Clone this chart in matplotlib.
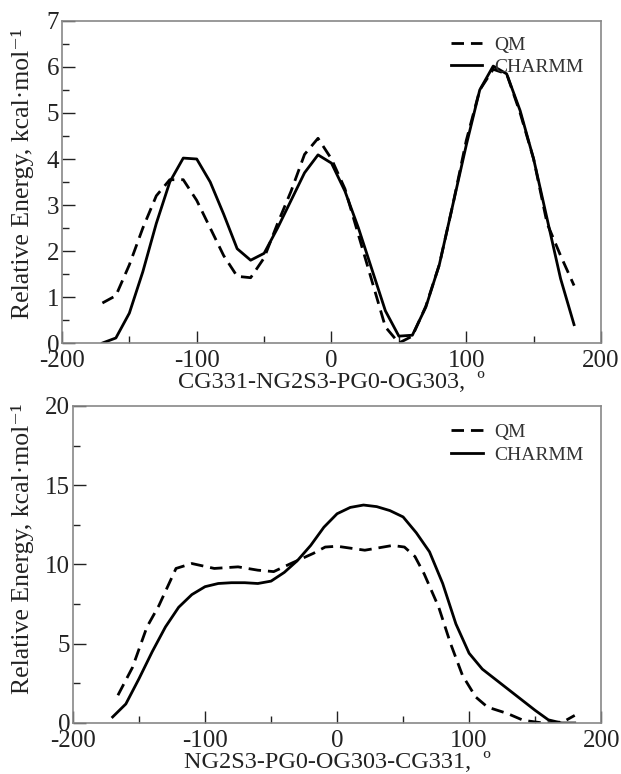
import matplotlib
matplotlib.use("Agg")
import matplotlib.pyplot as plt
from matplotlib.ticker import MultipleLocator

plt.rcParams['font.family'] = ['Liberation Serif', 'DejaVu Serif']
plt.rcParams['axes.unicode_minus'] = False

# Top panel: CG331-NG2S3-PG0-OG303
top_charmm_x = [-170, -160, -150, -140, -130, -120, -110, -100, -90, -80, -70, -60, -50, -40, -30, -20, -10, 0,
                10, 20, 30, 40, 50, 60, 70, 80, 90, 100, 110, 120, 130, 140, 150, 160, 170, 180]
top_charmm_y = [0.0, 0.11, 0.65, 1.55, 2.6, 3.5, 4.02, 4.0, 3.5, 2.8, 2.05, 1.8, 1.95, 2.5, 3.1, 3.7, 4.09, 3.91,
                3.3, 2.5, 1.6, 0.7, 0.15, 0.17, 0.78, 1.7, 3.0, 4.3, 5.5, 6.02, 5.85, 5.05, 4.0, 2.7, 1.4, 0.4]
top_qm_x = [-170, -160, -150, -140, -130, -120, -110, -100, -90, -80, -70, -60, -50, -40, -30, -20, -10, 0,
            10, 20, 30, 40, 50, 60, 70, 80, 90, 100, 110, 120, 130, 140, 150, 160, 170, 180]
top_qm_y = [0.87, 1.03, 1.7, 2.5, 3.2, 3.55, 3.55, 3.1, 2.5, 1.9, 1.45, 1.42, 1.85, 2.6, 3.3, 4.1, 4.45, 4.0,
            3.35, 2.35, 1.35, 0.35, 0.0, 0.15, 0.8, 1.7, 3.0, 4.4, 5.5, 5.95, 5.85, 5.0, 4.0, 2.6, 1.9, 1.25]

# Bottom panel: NG2S3-PG0-OG303-CG331
bot_charmm_x = [-170, -160, -150, -140, -130, -120, -110, -100, -90, -80, -70, -60, -50, -40, -30, -20, -10, 0,
                10, 20, 30, 40, 50, 60, 70, 80, 90, 100, 110, 120, 130, 140, 150, 160, 170, 180]
bot_charmm_y = [0.38, 1.2, 2.8, 4.5, 6.06, 7.3, 8.1, 8.6, 8.8, 8.85, 8.85, 8.8, 8.95, 9.5, 10.25, 11.2, 12.35, 13.2,
                13.6, 13.75, 13.65, 13.4, 13.0, 12.0, 10.8, 8.8, 6.25, 4.4, 3.4, 2.75, 2.1, 1.45, 0.8, 0.2, 0.0, 0.0]
bot_qm_x = [-166, -155, -144, -135, -122, -110, -93, -75, -60, -48, -35, -18, -9, 0,
            21, 42, 51, 59, 66, 77, 86, 95, 105, 114, 129, 141, 156, 171, 180]
bot_qm_y = [1.75, 3.5, 6.06, 7.4, 9.75, 10.06, 9.75, 9.85, 9.64, 9.55, 10.06, 10.7, 11.1, 11.15,
            10.9, 11.2, 11.1, 10.5, 9.4, 7.3, 5.0, 3.0, 1.64, 1.0, 0.6, 0.17, 0.0, 0.06, 0.48]

xlabel_top = "CG331-NG2S3-PG0-OG303,  º"
xlabel_bot = "NG2S3-PG0-OG303-CG331,  º"
ylabel = "Relative Energy, kcal·mol⁻¹"

fig = plt.figure(figsize=(6.21, 7.74), dpi=100)
ax1 = fig.add_axes([0.0998, 0.5568, 0.868, 0.4161])
ax2 = fig.add_axes([0.1176, 0.0659, 0.8504, 0.4096])

def style(ax, ymax, ymaj, ymin_step, xl, ylab_xy, leg_y):
    ax.set_xlim(-200, 200)
    ax.set_ylim(0, ymax)
    ax.xaxis.set_major_locator(MultipleLocator(100))
    ax.xaxis.set_minor_locator(MultipleLocator(50))
    ax.yaxis.set_major_locator(MultipleLocator(ymaj))
    ax.yaxis.set_minor_locator(MultipleLocator(ymin_step))
    ax.tick_params(which='both', direction='in', top=False, right=False, labelsize=18, colors='#222222')
    ax.tick_params(which='major', length=9, width=1)
    ax.tick_params(which='minor', length=5, width=1)
    ax.tick_params(axis='x', pad=5)
    ax.tick_params(axis='y', pad=2)
    for s in ax.spines.values():
        s.set_color('#888888')
        s.set_linewidth(1.2)
    ax.set_xlabel(xl, fontsize=17.5, labelpad=0, color='#222222')
    ax.set_ylabel(ylabel, fontsize=18.5, color='#222222')
    ax.yaxis.set_label_coords(*ylab_xy)
    leg = ax.legend(loc='upper right', frameon=False, fontsize=14, handlelength=1.6,
                    bbox_to_anchor=(1.0, leg_y), labelspacing=0.25, handletextpad=0.6)
    for t in leg.get_texts():
        t.set_color('#333333')

ax1.plot(top_qm_x, top_qm_y, color='black', lw=2, ls=(0, (4.5, 2.5)), label='QM')
ax1.plot(top_charmm_x, top_charmm_y, color='black', lw=2, label='CHARMM')
style(ax1, 7, 1, 0.5, xlabel_top, (-0.052, 0.525), 1.007)

ax2.plot(bot_qm_x, bot_qm_y, color='black', lw=2, ls=(0, (4.5, 2.5)), label='QM')
ax2.plot(bot_charmm_x, bot_charmm_y, color='black', lw=2, label='CHARMM')
style(ax2, 20, 5, 2.5, xlabel_bot, (-0.074, 0.549), 1.0)

fig.savefig("out.png", dpi=100)
